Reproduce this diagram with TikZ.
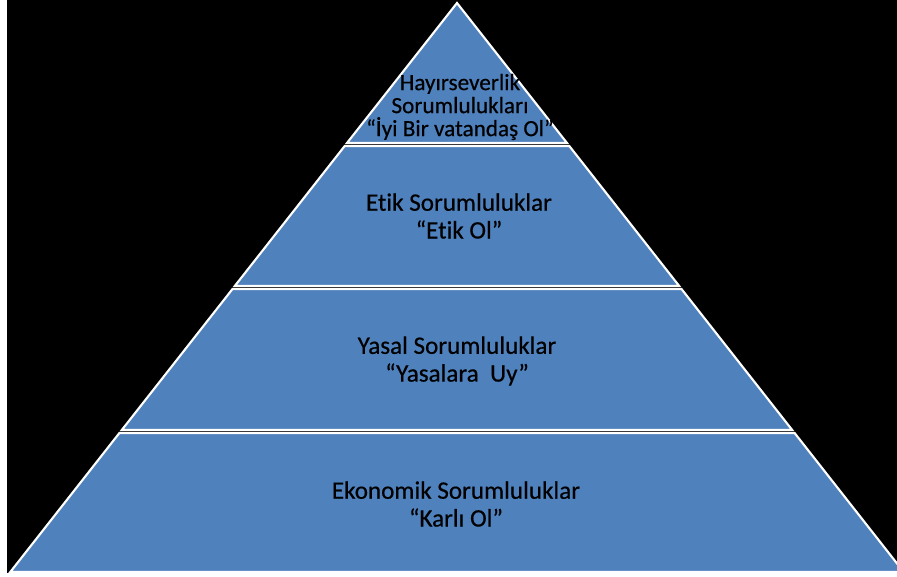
\documentclass[tikz,border=0pt]{standalone}
\usepackage{fontspec}
\setmainfont{Carlito}[Ligatures=CommonOff, BoldFont=Carlito, BoldFeatures={FakeBold=0.5}]
\definecolor{pyrblue}{RGB}{79,129,189}
\begin{document}
\begin{tikzpicture}[x=0.02cm, y=-0.02cm,
    layer/.style={fill=pyrblue, draw=white, line width=1.2pt},
    toptext/.style={align=center, text=black, font=\fontsize{13.2}{13.1}\bfseries},
    lvltext/.style={align=center, text=black, font=\fontsize{14.3}{15.8}\bfseries}]
    \useasboundingbox (0,0) rectangle (897,577);
    % background
    \fill[white] (0,0) rectangle (897,577);
    \fill[black] (7,0) rectangle (897,573);
    % draw layers
    \begin{scope}
    \clip (0,0) rectangle (897,577);
    \draw[layer] (457,3) -- (567,143) -- (347,143) -- cycle;
    \draw[layer] (344.7,146) -- (569.3,146) -- (679.2,286) -- (234.8,286) -- cycle;
    \draw[layer] (232.5,289) -- (681.5,289) -- (792.2,430) -- (121.8,430) -- cycle;
    \draw[layer] (119.4,433) -- (794.6,433) -- (903.7,572) -- (10.3,572) -- cycle;
    \end{scope}
    % place labels
    \node[toptext] (hayir) at (460,107) {Hayırseverlik\\Sorumlulukları\\“İyi Bir vatandaş Ol”};
    \node[lvltext] (etik) at (459,216) {Etik Sorumluluklar\\“Etik Ol”};
    \node[lvltext] (yasal) at (457,361) {Yasal Sorumluluklar\\“Yasalara\ \ Uy”};
    \node[lvltext] (ekonomik) at (456,504) {Ekonomik Sorumluluklar\\“Karlı Ol”};
\end{tikzpicture}
\end{document}
